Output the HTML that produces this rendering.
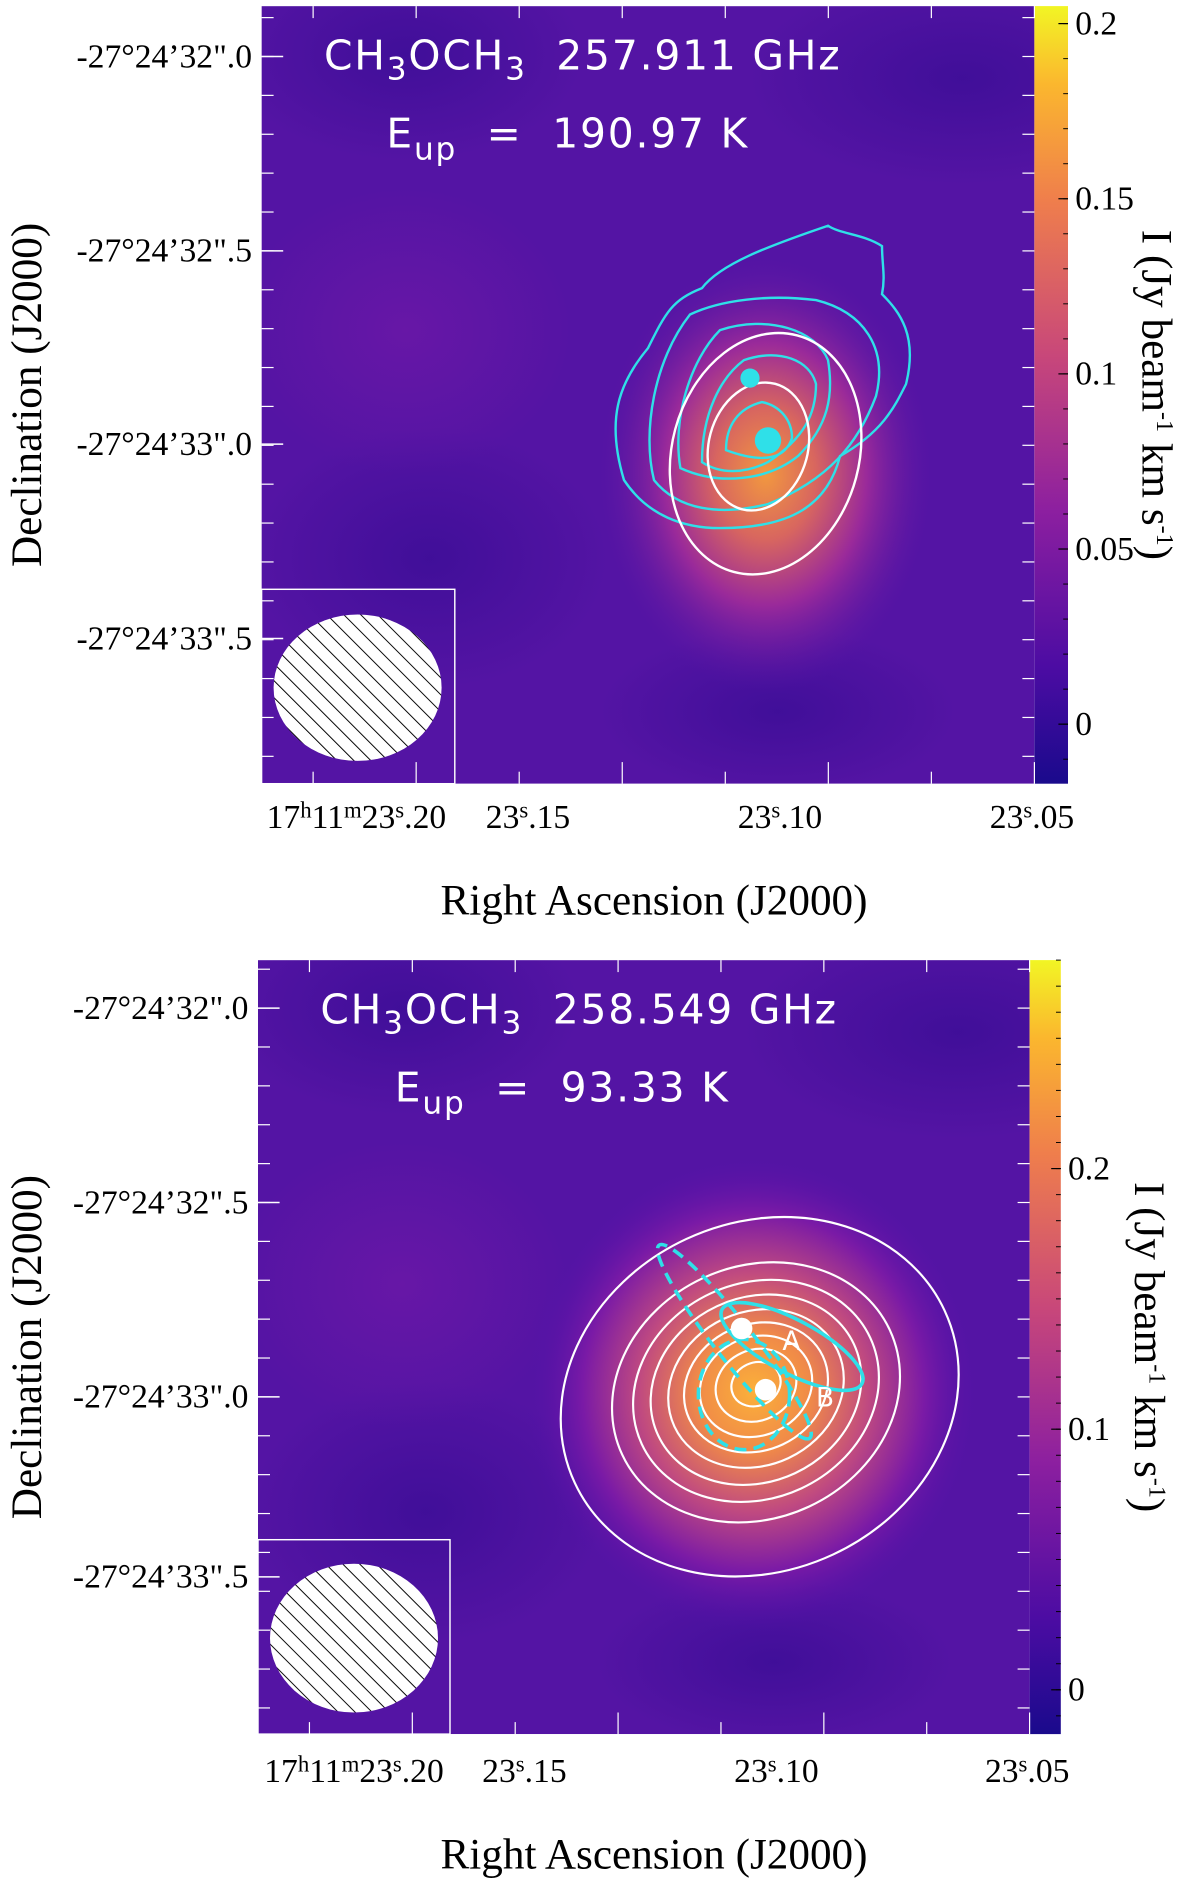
<!DOCTYPE html>
<html><head><meta charset="utf-8"><style>
html,body{margin:0;padding:0;background:#fff}
svg{display:block}
.lab{font-family:"Liberation Serif",serif;font-size:28px;fill:#000}
.ttl{font-family:"Liberation Serif",serif;font-size:36px;fill:#000}
.ann{font-family:"DejaVu Sans","Liberation Sans",sans-serif;font-size:34px;fill:#fff;letter-spacing:1.5px}
</style></head><body>
<svg id="fig" width="1200" height="1889" viewBox="0 0 1000 1574" xmlns="http://www.w3.org/2000/svg">
<defs>
<linearGradient id="cbar" x1="0" y1="1" x2="0" y2="0">
<stop offset="0" stop-color="#1a0a8c"/><stop offset="0.15" stop-color="#4c0ca3"/><stop offset="0.35" stop-color="#8c1fa0"/><stop offset="0.55" stop-color="#c8477a"/><stop offset="0.75" stop-color="#ef7e4c"/><stop offset="0.9" stop-color="#fbb72e"/><stop offset="1" stop-color="#f2f524"/>
</linearGradient>
<radialGradient id="blob1" cx="638" cy="395" r="140" gradientUnits="userSpaceOnUse" gradientTransform="translate(638 395) scale(1 1.3) translate(-638 -395)">
<stop offset="0" stop-color="#f2983f"/><stop offset="0.3" stop-color="#d8665f"/><stop offset="0.6" stop-color="#9a2a9a"/><stop offset="1" stop-color="#5a16a6" stop-opacity="0"/>
</radialGradient>
<radialGradient id="blob2" cx="628" cy="1160" r="190" gradientUnits="userSpaceOnUse" gradientTransform="translate(628 1160) scale(1 1.05) translate(-628 -1160)">
<stop offset="0" stop-color="#fbb03a"/><stop offset="0.25" stop-color="#f08a48"/><stop offset="0.5" stop-color="#c04a80"/><stop offset="0.75" stop-color="#7a1aa6"/><stop offset="1" stop-color="#5010a8" stop-opacity="0"/>
</radialGradient>
<radialGradient id="soft" cx="0.5" cy="0.5" r="0.5">
<stop offset="0" stop-color="#300a90" stop-opacity="0.55"/><stop offset="1" stop-color="#300a90" stop-opacity="0"/>
</radialGradient>
<radialGradient id="softL" cx="0.5" cy="0.5" r="0.5">
<stop offset="0" stop-color="#7a1aa8" stop-opacity="0.5"/><stop offset="1" stop-color="#7a1aa8" stop-opacity="0"/>
</radialGradient>
<pattern id="hatch" width="10" height="10" patternUnits="userSpaceOnUse" patternTransform="rotate(-45)">
<rect width="10" height="10" fill="#fff"/><line x1="0" y1="0" x2="0" y2="10" stroke="#000" stroke-width="1.6"/>
</pattern>
<clipPath id="clip0"><rect x="218" y="5" width="644" height="648"/></clipPath>
<clipPath id="clip1"><rect x="215" y="800" width="643" height="645"/></clipPath>
</defs>
<g id="panels"></g>
</svg>
<script>
const NS='http://www.w3.org/2000/svg';
// data arrays
const decLabels=['-27°24’32".0','-27°24’32".5','-27°24’33".0','-27°24’33".5'];
const raLabels=['23s.20','23s.15','23s.10','23s.05'];
const cbTicks1=[0,0.05,0.1,0.15,0.2];
const cbRange1=[-0.017,0.205];
const cbTicks2=[0,0.1,0.2];
const cbRange2=[-0.017,0.28];
const whiteLevels2=[1,0.82,0.7,0.6,0.5,0.41,0.32,0.23,0.14];
const whiteLevels1=[1,0.53];
const panels=[
 {y0:5,y1:653,x0:218,x1:862,cbx1:890,decY:[47,209,370,532],cbTicks:cbTicks1,cbRange:cbRange1,
  title1:'257.911 GHz',eup:'190.97 K',blob:'blob1',name:'top',raY:690,raTitleY:762,inset:[218,491,161,162],beam:[298,573,70,61],
  tx:270,ty:58},
 {y0:800,y1:1445,x0:215,x1:858,cbx1:884,decY:[840,1002,1164,1314],cbTicks:cbTicks2,cbRange:cbRange2,
  title1:'258.549 GHz',eup:'93.33 K',blob:'blob2',name:'bottom',raY:1485,raTitleY:1557,inset:[215,1283,160,162],beam:[295,1365,70,62],
  tx:267,ty:853}
];
const raX=[[297,440,650,860],[295,437,647,856]];
function el(tag,attrs,parent){const e=document.createElementNS(NS,tag);for(const k in attrs)e.setAttribute(k,attrs[k]);parent.appendChild(e);return e;}
const root=document.getElementById('panels');
panels.forEach((p,pi)=>{
 const g=el('g',{},root);
 
 
 const m=el('g',{'clip-path':'url(#clip'+pi+')'},g);
 const bg=el('rect',{x:p.x0,y:p.y0,width:p.x1-p.x0,height:p.y1-p.y0,fill:'#5414a4'},m);
 
 
 el('ellipse',{cx:p.x0+140,cy:p.y0+460,rx:150,ry:110,fill:'url(#soft)'},m);
 el('ellipse',{cx:p.x1-60,cy:p.y0+60,rx:180,ry:90,fill:'url(#soft)'},m);
 el('ellipse',{cx:p.x0+120,cy:p.y0+40,rx:150,ry:90,fill:'url(#soft)'},m);
 el('ellipse',{cx:p.x0+120,cy:p.y0+270,rx:140,ry:120,fill:'url(#softL)'},m);
 el('ellipse',{cx:p.x0+430,cy:p.y1-60,rx:150,ry:70,fill:'url(#soft)'},m);
 const b=el('rect',{x:p.x0,y:p.y0,width:p.x1-p.x0,height:p.y1-p.y0,fill:'url(#'+p.blob+')'},m);
 
 
 p.m=m;
 const cb=el('rect',{x:p.x1,y:p.y0,width:p.cbx1-p.x1,height:p.y1-p.y0,fill:'url(#cbar)'},g);
 
 
 const cbY=v=>p.y1-(v-p.cbRange[0])/(p.cbRange[1]-p.cbRange[0])*(p.y1-p.y0);
 p.cbTicks.forEach(v=>{
  const y=cbY(v);
  el('line',{x1:p.cbx1-8,x2:p.cbx1,y1:y,y2:y,stroke:'#000','stroke-width':1},g);
  const t=el('text',{x:p.cbx1+6,y:y+9,class:'lab'},g);t.textContent=String(v);
  
  
 });
 for(let k=Math.ceil(p.cbRange[0]*100);k<=Math.floor(p.cbRange[1]*100);k++){const y=cbY(k/100);el('line',{x1:p.cbx1-4,x2:p.cbx1,y1:y,y2:y,stroke:'#000','stroke-width':0.8},g);}
 const cbt=el('text',{x:0,y:0,class:'ttl',transform:`translate(${p.cbx1+62},${(p.y0+p.y1)/2}) rotate(90)`,'text-anchor':'middle'},g);
 cbt.innerHTML='I (Jy beam<tspan dy="-12" font-size="20">-1</tspan><tspan dy="12"> km s</tspan><tspan dy="-12" font-size="20">-1</tspan><tspan dy="12">)</tspan>';
 
 
 const step=(p.decY[1]-p.decY[0])/5;
 for(let y=p.decY[0]-step;y<p.y1;y+=step){if(y<p.y0)continue;
  el('line',{x1:p.x0,x2:p.x0+10,y1:y,y2:y,stroke:'#fff','stroke-width':1},g);
  el('line',{x1:p.x1-10,x2:p.x1,y1:y,y2:y,stroke:'#fff','stroke-width':1},g);}
 p.decY.forEach((y,i)=>{
  el('line',{x1:p.x0,x2:p.x0+18,y1:y,y2:y,stroke:'#fff','stroke-width':1.2},g);
  const t=el('text',{x:p.x0-8,y:y+9,class:'lab','text-anchor':'end'},g);t.textContent=decLabels[i];
  
  
 });
 const dt=el('text',{x:0,y:0,class:'ttl',transform:`translate(34,${(p.y0+p.y1)/2}) rotate(-90)`,'text-anchor':'middle'},g);
 dt.textContent='Declination (J2000)';
 
 
 const rs=(p.x1-p.x0)/7.5;
 for(let k=0;k<8;k++){const x=p.x1-k*rs;
  el('line',{x1:x,x2:x,y1:p.y1-(k%2?10:18),y2:p.y1,stroke:'#fff','stroke-width':1},g);
  el('line',{x1:x,x2:x,y1:p.y0,y2:p.y0+10,stroke:'#fff','stroke-width':1},g);}
 raX[pi].forEach((x,i)=>{
  const t=el('text',{x:x,y:p.raY,class:'lab','text-anchor':'middle'},g);
  const parts=raLabels[i].split('s');
  t.innerHTML=(i===0?'17<tspan dy="-9" font-size="19">h</tspan><tspan dy="9">11</tspan><tspan dy="-9" font-size="19">m</tspan><tspan dy="9">23</tspan>':parts[0])+'<tspan dy="-9" font-size="19">s</tspan><tspan dy="9">'+parts[1]+'</tspan>';
  
  
 });
 const rt=el('text',{x:545,y:p.raTitleY,class:'ttl','text-anchor':'middle'},g);
 rt.textContent='Right Ascension (J2000)';
 
 
 const ib=el('rect',{x:p.inset[0],y:p.inset[1],width:p.inset[2],height:p.inset[3],fill:'none',stroke:'#fff','stroke-width':1.2},g);
 
 
 const be=el('ellipse',{cx:p.beam[0],cy:p.beam[1],rx:p.beam[2],ry:p.beam[3],fill:'url(#hatch)'},g);
 
 
 const a1=el('text',{x:p.tx,y:p.ty,class:'ann'},g);
 a1.innerHTML='CH<tspan dy="8" font-size="26">3</tspan><tspan dy="-8">OCH</tspan><tspan dy="8" font-size="26">3</tspan><tspan dy="-8" xml:space="preserve">  '+p.title1+'</tspan>';
 
 
 const a2=el('text',{x:p.tx+(pi?62:52),y:p.ty+65,class:'ann'},g);
 a2.setAttribute('xml:space','preserve');
 a2.innerHTML='E<tspan dy="10" font-size="26">up</tspan><tspan dy="-10" xml:space="preserve">  =  '+p.eup+'</tspan>';
 
 
 p.g=g;
});
const g1=panels[0].m;
const cyanPaths=[
 'M 520 400 C 505 350 515 320 540 290 C 555 260 560 250 585 240 C 600 220 640 205 690 188 C 700 195 720 195 735 205 C 735 220 738 230 735 245 C 750 260 765 280 755 320 C 745 340 735 360 700 380 C 690 420 660 440 600 440 C 570 440 540 430 520 400 Z',
 'M 545 400 C 535 360 545 300 575 262 C 600 250 640 245 680 250 C 720 260 740 290 730 330 C 715 370 690 400 640 420 C 600 430 565 425 545 400 Z',
 'M 567 390 C 560 350 575 300 600 275 C 640 262 680 275 690 300 C 695 330 690 355 665 380 C 640 400 600 405 567 390 Z',
 'M 585 385 C 585 345 600 315 620 300 C 650 290 675 300 680 320 C 680 345 670 365 640 385 C 620 395 600 395 585 385 Z',
 'M 605 375 C 605 355 615 340 635 335 C 650 338 660 350 660 365 C 655 380 640 388 605 375 Z'
];
const cyanLevels=[1,2,3,4,5];
cyanLevels.forEach((lv,i)=>{
 const c=el('path',{d:cyanPaths[i],fill:'none',stroke:'#2fe0e8','stroke-width':2},g1);
 
 
});
whiteLevels1.forEach((lv,i)=>{
 const w=el('ellipse',{cx:638-6*i,cy:378-6*i,rx:78*lv,ry:102*lv,fill:'none',stroke:'#fff','stroke-width':2,transform:`rotate(15 ${638-6*i} ${378-6*i})`},g1);
 
 
});
const d1=el('circle',{cx:625,cy:315,r:8,fill:'#2fe0e8'},g1);


const d2=el('circle',{cx:640,cy:367,r:11,fill:'#2fe0e8'},g1);


const g2=panels[1].m;
whiteLevels2.forEach((lv,i)=>{
 const cx=630, cy=1162-10*(1-lv);
 const w=el('ellipse',{cx:i===0?632:cx,cy:i===0?1165:cy,rx:i===0?170:150*lv,ry:i===0?145:128*lv,fill:'none',stroke:'#fff','stroke-width':1.8,transform:`rotate(-25 ${cx} ${cy})`},g2);
 
 
});
const e1=el('ellipse',{cx:660,cy:1122,rx:66,ry:22,fill:'none',stroke:'#2fe0e8','stroke-width':3,transform:'rotate(28 660 1122)'},g2);


const e2=el('ellipse',{cx:612,cy:1118,rx:102,ry:16,fill:'none',stroke:'#2fe0e8','stroke-width':3,'stroke-dasharray':'10 6',transform:'rotate(52 612 1118)'},g2);


const e3=el('ellipse',{cx:620,cy:1162,rx:38,ry:46,fill:'none',stroke:'#2fe0e8','stroke-width':3,'stroke-dasharray':'10 6'},g2);


[[618,1107,'A',652,1125],[638,1158,'B',680,1172]].forEach(s=>{
 const c=el('circle',{cx:s[0],cy:s[1],r:9,fill:'#fff'},g2);
 
 
 const t=el('text',{x:s[3],y:s[4],'font-family':'DejaVu Sans,sans-serif','font-size':22,fill:'#fff'},g2);t.textContent=s[2];
 
 
});
</script>
</body></html>
